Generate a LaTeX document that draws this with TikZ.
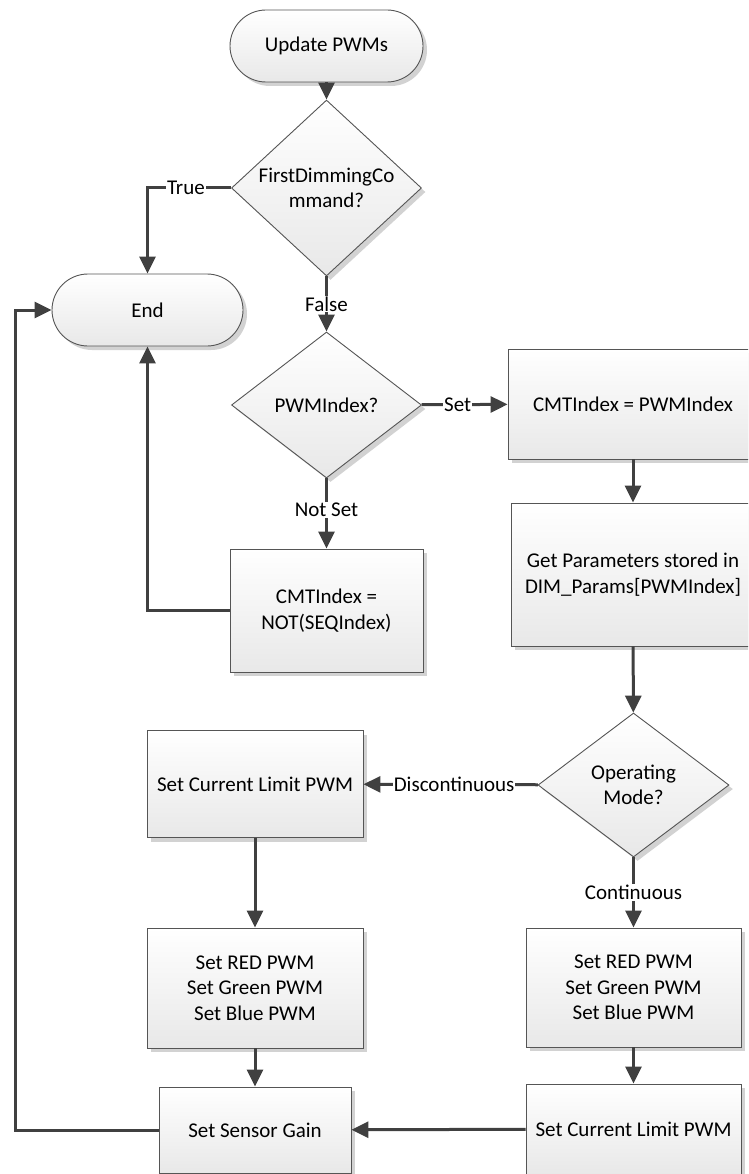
\documentclass[tikz,border=0pt]{standalone}
\usepackage{fontspec}
\setmainfont{Carlito}
\usetikzlibrary{shapes.geometric,shadows,arrows.meta}
\definecolor{linegray}{HTML}{404040}
\definecolor{edgegray}{HTML}{555555}
\begin{document}
\begin{tikzpicture}[x=1pt,y=-1pt,
  font=\fontsize{21}{25.6}\selectfont,
  shapebase/.style={draw=edgegray, line width=0.9pt, top color=white, bottom color=black!9,
    drop shadow={shadow xshift=4pt, shadow yshift=-4pt, fill=black!22, opacity=0.8},
    align=center, inner sep=2pt},
  fcbox/.style={shapebase, rectangle, minimum width=#1},
  fcterm/.style={shapebase, rectangle, rounded corners=36pt, minimum width=193pt, minimum height=72pt},
  fcdecision/.style={shapebase, diamond, minimum width=190pt, minimum height=146pt, inner sep=0pt},
  flow/.style={draw=linegray, line width=3pt, -{Triangle[length=17pt,width=16pt]}},
  flowlabel/.style={fill=white, inner sep=1pt, text=black}
]
\useasboundingbox (0,0) rectangle (748,1174);
\clip (0,0) rectangle (748,1174);

% central column
\node[fcterm] (upd) at (326.5,46) {Update PWMs};
\node[fcdecision] (d1) at (326.5,188) {FirstDimmingCo\\mmand?};
\node[fcterm, minimum width=191pt] (end) at (147.5,310) {End};
\node[fcdecision] (d2) at (326.5,405) {PWMIndex?};
\node[fcbox=193pt, minimum height=123pt] (notidx) at (326.5,610.5) {CMTIndex =\\NOT(SEQIndex)};

% right column
\node[fcbox=250pt, minimum height=110pt] (cmt) at (633,404) {CMTIndex = PWMIndex};
\node[fcbox=244pt, minimum height=143pt] (params) at (633,574.5) {Get Parameters stored in\\DIM\_Params[PWMIndex]};
\node[fcdecision, minimum width=191pt, minimum height=144pt] (mode) at (633.5,785) {Operating\\Mode?};
\node[fcbox=215pt, minimum height=119pt] (rgbc) at (633.5,987.5) {Set RED PWM\\Set Green PWM\\Set Blue PWM};
\node[fcbox=215pt, minimum height=90pt] (climc) at (633.5,1129) {Set Current Limit PWM};

% left column
\node[fcbox=216pt, minimum height=107pt] (climd) at (255,784) {Set Current Limit PWM};
\node[fcbox=216pt, minimum height=120pt] (rgbd) at (255,988) {Set RED PWM\\Set Green PWM\\Set Blue PWM};
\node[fcbox=192pt, minimum height=86pt] (gain) at (255,1130) {Set Sensor Gain};

\coordinate (ret) at (15,1130);

% connectors
\draw[flow] (upd) -- (d1);
\draw[flow] (d1.west) -| node[flowlabel, pos=0.27] {True} (end.north);
\draw[flow] (d1) -- node[flowlabel] {False} (d2);
\draw[flow] (d2) -- node[flowlabel, pos=0.42] {Set} (cmt);
\draw[flow] (d2) -- node[flowlabel, pos=0.45] {Not Set} (notidx);
\draw[flow] (notidx.west) -| (end.south);
\draw[flow] (cmt) -- (params);
\draw[flow] (params) -- (mode);
\draw[flow] (mode) -- node[flowlabel, pos=0.48] {Discontinuous} (climd);
\draw[flow] (mode) -- node[flowlabel] {Continuous} (rgbc);
\draw[flow] (climd) -- (rgbd);
\draw[flow] (rgbd) -- (gain);
\draw[flow] (rgbc) -- (climc);
\draw[flow] (climc) -- (gain);
\draw[flow] (gain.west) -- (ret) |- (end.west);
\end{tikzpicture}
\end{document}
